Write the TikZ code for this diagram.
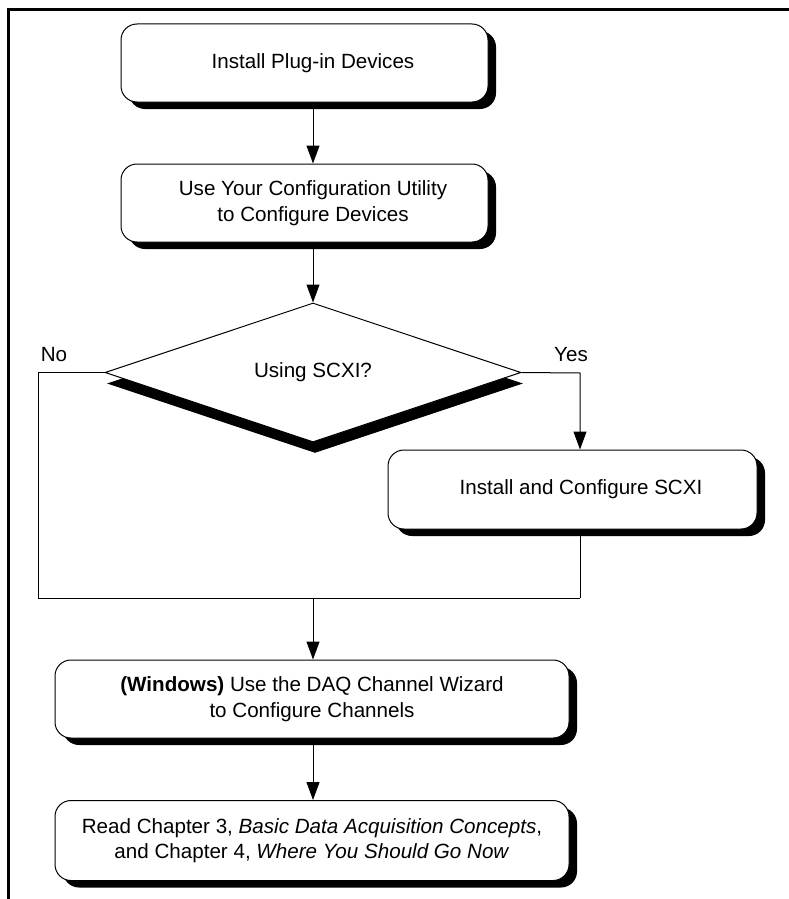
\documentclass[tikz,border=0pt]{standalone}
\usepackage{fontspec}
\setmainfont{Liberation Sans}
\usetikzlibrary{arrows.meta,shapes.geometric,shadows}
\newcommand{\txtshift}{\hspace*{17pt}}
\begin{document}
\begin{tikzpicture}[x=1pt,y=-1pt,
  txt/.style={font=\fontsize{20.6}{25.5}\selectfont},
  box/.style={txt, draw=black, line width=1pt, fill=white, rounded corners=16pt,
    minimum width=#1, minimum height=78pt, inner sep=0pt, align=center,
    general shadow={fill=black, shadow xshift=8pt, shadow yshift=-7pt}},
  decision/.style={txt, diamond, draw=black, line width=1pt, fill=white,
    minimum width=416pt, minimum height=139pt, inner sep=0pt,
    general shadow={fill=black, shadow xshift=2pt, shadow yshift=-11pt}},
  conn/.style={line width=1pt, black},
  arr/.style={conn, -{Triangle[length=18pt,width=13pt]}},
  lbl/.style={txt, inner sep=0pt}
]
\useasboundingbox (0,0) rectangle (789,899);
% frame
\draw[line width=3.5pt, line join=miter] (8.5,899) -- (8.5,9.5) -- (789,9.5);

\node[box=367pt] (b1) at (304.5,63) {\txtshift Install Plug-in Devices};
\node[box=367pt] (b2) at (304.5,203) {\txtshift Use Your Configuration Utility\\ \txtshift to Configure Devices};
\node[decision] (d) at (313,372.5) {Using SCXI?};
\node[box=369pt, minimum height=79pt] (b3) at (572.5,489.5) {\txtshift Install and Configure SCXI};
\node[box=514pt] (b4) at (312,699) {\textbf{(Windows)} Use the DAQ Channel Wizard\\ to Configure Channels};
\node[box=514pt, minimum height=80pt] (b5) at (312,840.5) {Read Chapter 3, \textit{Basic Data Acquisition Concepts},\\ and Chapter 4, \textit{Where You Should Go Now}};

\node[lbl] (no) at (54,355) {No};
\node[lbl] (yes) at (571,355) {Yes};

\coordinate (yc) at (580,373);
\coordinate (nL) at (38,598);
\coordinate (nR) at (580,598);
\coordinate (m) at (313,598);

\draw[arr] (b1.south -| d.north) -- (b2.north -| d.north);
\draw[arr] (b2.south -| d.north) -- (d.north);
\draw[conn] (d.west) -| (nL) -- (nR);
\draw[arr] (d.east) -- (yc) -- (yc |- b3.north);
\draw[conn] (yc |- b3.south) -- (nR);
\draw[arr] (m) -- (b4.north -| m);
\draw[arr] (b4.south -| m) -- (b5.north -| m);
\end{tikzpicture}
\end{document}
